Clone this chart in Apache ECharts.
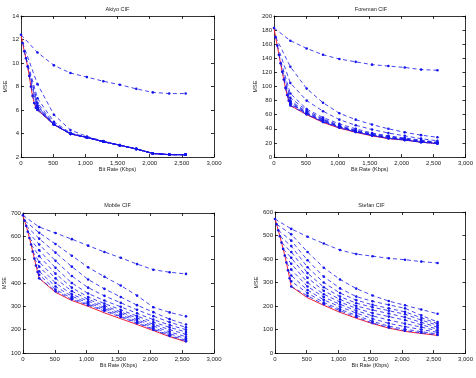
<!DOCTYPE html>
<html>
<head>
<meta charset="utf-8">
<script src="https://cdn.jsdelivr.net/npm/echarts@6/dist/echarts.min.js"></script>
<style>
  html, body { margin: 0; padding: 0; background: #fff; }
  #main { width: 476px; height: 378px; }
</style>
</head>
<body>
<div id="main"></div>
<script>
  // x positions: the steep start part (0..256) and the coarse steps (256..2560)
  const steepX = [0, 25.6, 51.2, 76.8, 102.4, 128, 153.6, 179.2, 204.8, 230.4, 256];
  const tailX = [256, 512, 768, 1024, 1280, 1536, 1792, 2048, 2304, 2560];

  // Akiyo CIF
  const akiyoSteep = [12.4, 11.7, 11.0, 10.4, 9.7, 8.9, 8.0, 7.2, 6.6, 6.2, 6.0];
  const akiyoRed = [4.75, 3.97, 3.66, 3.3, 3.0, 2.68, 2.3, 2.2, 2.2];   // 512..2560
  // one row per start point on the steep part, values at tailX
  const akiyoFan = [
    [10.9, 9.8, 9.15, 8.8, 8.45, 8.15, 7.8, 7.5, 7.4, 7.4],
    [8.2, 5.6, 4.3, 3.75, 3.35, 3.02, 2.7, 2.32, 2.2, 2.2],
    [7.0, 5.0, 4.05, 3.7, 3.32, 3.0, 2.68, 2.3, 2.2, 2.2],
    [6.6, 4.85, 4.0, 3.68, 3.31, 3.01, 2.69, 2.31, 2.2, 2.2],
    [6.4, 4.8, 3.98, 3.67, 3.3, 3.0, 2.68, 2.3, 2.2, 2.2],
    [6.3, 4.78, 3.97, 3.66, 3.3, 3.0, 2.68, 2.3, 2.2, 2.2],
    [6.2, 4.78, 3.97, 3.66, 3.3, 3.0, 2.68, 2.3, 2.2, 2.2],
    [6.15, 4.77, 3.97, 3.66, 3.3, 3.0, 2.68, 2.3, 2.2, 2.2],
    [6.1, 4.76, 3.97, 3.66, 3.3, 3.0, 2.68, 2.3, 2.2, 2.2],
    [6.05, 4.76, 3.97, 3.66, 3.3, 3.0, 2.68, 2.3, 2.2, 2.2],
    [null, 4.75, 3.97, 3.66, 3.3, 3.0, 2.68, 2.3, 2.2, 2.2]
  ];

  // Foreman CIF
  const foremanSteep = [183, 170, 158, 145, 133, 121, 110, 98, 88, 80, 73];
  const foremanRed = [60, 49, 41, 35, 30, 26, 24, 21, 19];
  const foremanFan = [
    [165, 154, 145, 139, 135, 131, 129, 127, 124, 123],
    [128, 97, 77, 62, 53, 46, 40, 35, 31, 28],
    [105, 80, 65, 53, 45, 39, 34, 30, 26, 23],
    [90, 68, 56, 47, 40, 34, 30, 27, 24, 21],
    [84, 66, 54, 45, 38, 33, 29, 26, 23, 20.5],
    [80, 64, 53, 44, 37, 32, 28, 25, 22, 20],
    [78, 63, 52, 43, 37, 32, 28, 25, 22, 20],
    [77, 62, 51, 43, 36, 31, 27, 25, 22, 19.5],
    [76, 61.5, 50.5, 42.5, 36, 31, 27, 24.5, 21.5, 19.5],
    [75, 61, 50, 42, 35.5, 30.5, 26.5, 24, 21, 19],
    [null, 60.5, 49.5, 41.5, 35.5, 30.5, 26.5, 24, 21, 19]
  ];

  // Mobile CIF
  const mobileSteep = [690, 668, 645, 620, 593, 565, 535, 505, 475, 447, 420];
  const mobileRed = [360, 325, 300, 272, 247, 222, 196, 170, 148];
  const mobileFan = [
    [640, 614, 588, 560, 533, 508, 481, 457, 446, 439],
    [615, 567, 517, 467, 427, 389, 346, 296, 274, 257],
    [590, 530, 470, 415, 375, 340, 305, 275, 245, 222],
    [565, 495, 430, 380, 345, 315, 285, 258, 232, 210],
    [540, 465, 400, 355, 325, 298, 270, 243, 220, 200],
    [515, 440, 380, 340, 312, 285, 258, 232, 210, 190],
    [490, 420, 365, 330, 303, 276, 250, 223, 200, 180],
    [470, 400, 352, 322, 296, 270, 243, 216, 190, 170],
    [450, 385, 343, 315, 290, 263, 237, 209, 182, 162],
    [435, 372, 335, 309, 284, 257, 231, 203, 176, 155],
    [null, 365, 330, 305, 280, 254, 228, 200, 173, 150]
  ];

  // Stefan CIF
  const stefanSteep = [570, 548, 522, 497, 470, 443, 415, 385, 352, 318, 283];
  const stefanRed = [235, 203, 173, 148, 125, 106, 92, 83, 75];
  const stefanFan = [
    [528, 495, 466, 438, 421, 412, 403, 397, 389, 383],
    [505, 430, 363, 313, 274, 245, 221, 203, 185, 167],
    [478, 395, 325, 275, 240, 220, 205, 190, 160, 132],
    [455, 365, 300, 255, 225, 205, 190, 175, 150, 125],
    [430, 340, 280, 240, 212, 195, 180, 165, 140, 118],
    [405, 320, 265, 228, 200, 183, 168, 152, 130, 110],
    [380, 300, 250, 217, 190, 170, 155, 140, 120, 102],
    [355, 283, 238, 207, 180, 158, 140, 125, 110, 95],
    [330, 268, 226, 197, 170, 146, 126, 112, 100, 88],
    [305, 255, 215, 186, 160, 135, 114, 101, 91, 81],
    [null, 243, 208, 180, 153, 128, 108, 95, 86, 77]
  ];

  const panels = [
    { title: 'Akiyo CIF', steep: akiyoSteep, red: akiyoRed, fan: akiyoFan, min: 2, max: 14, step: 2,
      left: 21, top: 16, width: 193, height: 141, titleTop: 6 },
    { title: 'Foreman CIF', steep: foremanSteep, red: foremanRed, fan: foremanFan, min: 0, max: 200, step: 20,
      left: 274, top: 16, width: 194, height: 141, titleTop: 6 },
    { title: 'Mobile CIF', steep: mobileSteep, red: mobileRed, fan: mobileFan, min: 100, max: 700, step: 100,
      left: 21, top: 213, width: 193, height: 140, titleTop: 202 },
    { title: 'Stefan CIF', steep: stefanSteep, red: stefanRed, fan: stefanFan, min: 0, max: 600, step: 100,
      left: 275, top: 212, width: 193, height: 141, titleTop: 202 }
  ];

  const font = 'Liberation Sans, Arial, sans-serif';
  const axisLine = { show: true, onZero: false, lineStyle: { color: '#000', width: 0.8 } };
  const axisTick = { show: true, inside: true, length: 3, lineStyle: { color: '#000', width: 0.8 } };

  let grid = [], xAxis = [], yAxis = [], title = [], series = [];

  panels.forEach((p, i) => {
    grid.push({ left: p.left, top: p.top, width: p.width, height: p.height, containLabel: false });
    title.push({
      text: p.title, left: p.left + p.width / 2, top: p.titleTop, textAlign: 'center', padding: 0,
      textStyle: { fontSize: 5.5, fontWeight: 'normal', color: '#222', fontFamily: font }
    });
    xAxis.push({
      gridIndex: i, type: 'value', min: 0, max: 3000, interval: 500, position: 'bottom',
      axisLine: axisLine, axisTick: axisTick, splitLine: { show: false },
      axisLabel: { fontSize: 6, margin: 3, color: '#222', fontFamily: font },
      name: 'Bit Rate (Kbps)', nameLocation: 'middle', nameGap: 9,
      nameTextStyle: { fontSize: 5.5, color: '#222', fontFamily: font }
    });
    xAxis.push({
      gridIndex: i, type: 'value', min: 0, max: 3000, interval: 500, position: 'top',
      axisLine: axisLine, axisTick: axisTick, splitLine: { show: false }, axisLabel: { show: false }
    });
    yAxis.push({
      gridIndex: i, type: 'value', min: p.min, max: p.max, interval: p.step, position: 'left',
      axisLine: axisLine, axisTick: axisTick, splitLine: { show: false },
      axisLabel: { fontSize: 6, margin: 2, color: '#222', fontFamily: font },
      name: 'MSE', nameLocation: 'middle', nameGap: 13, nameRotate: 90,
      nameTextStyle: { fontSize: 5.5, color: '#222', fontFamily: font }
    });
    yAxis.push({
      gridIndex: i, type: 'value', min: p.min, max: p.max, interval: p.step, position: 'right',
      axisLine: axisLine, axisTick: axisTick, splitLine: { show: false }, axisLabel: { show: false }
    });

    // red envelope: steep part then the coarse steps
    let redData = steepX.map((x, k) => [x, p.steep[k]]);
    p.red.forEach((v, j) => redData.push([tailX[j + 1], v]));
    series.push({
      type: 'line', xAxisIndex: 2 * i, yAxisIndex: 2 * i, data: redData, symbol: 'none',
      lineStyle: { color: '#f0203c', width: 1 }, z: 1, silent: true
    });

    // blue dashed curves, one per start point
    p.fan.forEach((vals, s) => {
      let data = [[steepX[s], p.steep[s]]];
      vals.forEach((v, j) => {
        if (v != null && tailX[j] > steepX[s]) data.push([tailX[j], v]);
      });
      series.push({
        type: 'line', xAxisIndex: 2 * i, yAxisIndex: 2 * i, data: data,
        symbol: 'circle', symbolSize: 2.6,
        itemStyle: { color: '#1515ee' },
        lineStyle: { color: '#1515ee', width: 0.8, type: [4, 3] },
        z: 2, silent: true
      });
    });
  });

  const myChart = echarts.init(document.getElementById('main'), null, { renderer: 'canvas' });
  myChart.setOption({
    animation: false,
    backgroundColor: '#fff',
    title: title,
    grid: grid,
    xAxis: xAxis,
    yAxis: yAxis,
    series: series
  });
</script>
</body>
</html>
